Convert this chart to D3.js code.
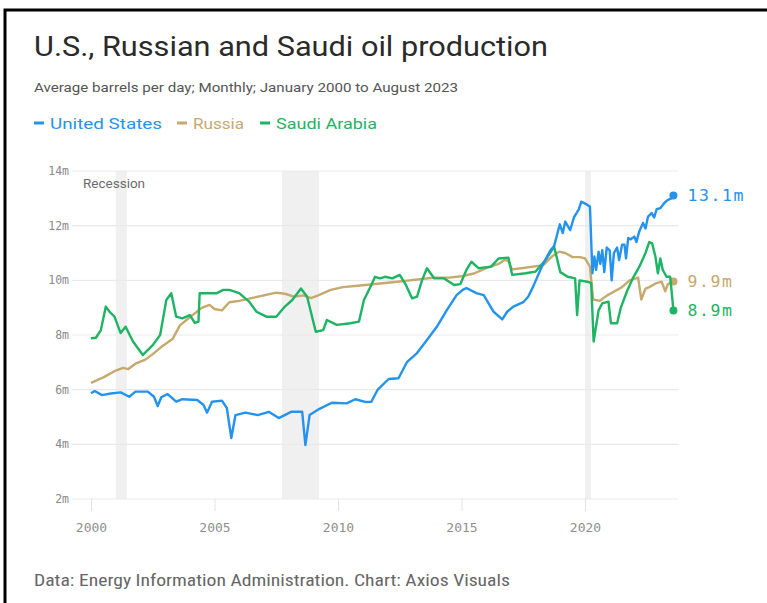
<!DOCTYPE html>
<html>
<head>
<meta charset="utf-8">
<script src="https://cdn.jsdelivr.net/npm/d3@7"></script>
<style>
  body { margin: 0; background: #fff; }
  svg { display: block; }
</style>
</head>
<body>
<div id="chart"></div>
<script>
// Monthly readings, [decimal year, million barrels per day]
const usSeries = [
  [2000.0, 5.87], [2000.15, 5.95], [2000.45, 5.8], [2000.8, 5.86], [2001.2, 5.9], [2001.55, 5.74],
  [2001.8, 5.93], [2002.3, 5.93], [2002.55, 5.74], [2002.7, 5.4], [2002.85, 5.73], [2003.1, 5.84],
  [2003.45, 5.56], [2003.7, 5.65], [2004.3, 5.62], [2004.55, 5.45], [2004.7, 5.16], [2004.9, 5.56],
  [2005.3, 5.6], [2005.5, 5.33], [2005.68, 4.23], [2005.85, 5.07], [2006.25, 5.16], [2006.75, 5.07],
  [2007.2, 5.19], [2007.6, 4.96], [2008.1, 5.19], [2008.55, 5.19], [2008.68, 3.97], [2008.85, 5.07],
  [2009.25, 5.3], [2009.75, 5.52], [2010.35, 5.5], [2010.7, 5.65], [2011.1, 5.55], [2011.35, 5.56],
  [2011.6, 5.99], [2012.05, 6.39], [2012.45, 6.42], [2012.8, 7.02], [2013.2, 7.34], [2013.6, 7.82],
  [2014.0, 8.3], [2014.4, 8.9], [2014.8, 9.46], [2015.05, 9.65], [2015.2, 9.72], [2015.6, 9.53],
  [2015.9, 9.46], [2016.3, 8.85], [2016.65, 8.57], [2016.85, 8.85], [2017.1, 9.04], [2017.5, 9.2],
  [2017.7, 9.4], [2017.9, 9.77], [2018.25, 10.5], [2018.6, 11.1], [2018.75, 11.25], [2018.98, 12.05],
  [2019.1, 11.73], [2019.2, 12.15], [2019.4, 11.84], [2019.55, 12.3], [2019.75, 12.6], [2019.85, 12.88],
  [2020.1, 12.76], [2020.2, 12.7], [2020.3, 10.26], [2020.38, 10.87], [2020.45, 10.38], [2020.55, 11.05],
  [2020.62, 10.6], [2020.7, 11.1], [2020.78, 10.3], [2020.88, 11.2], [2021.0, 11.1], [2021.08, 10.0],
  [2021.17, 11.0], [2021.3, 11.2], [2021.38, 10.74], [2021.5, 11.3], [2021.6, 11.3], [2021.66, 10.8],
  [2021.75, 11.55], [2021.85, 11.5], [2022.0, 11.6], [2022.08, 11.4], [2022.2, 11.8], [2022.35, 12.1],
  [2022.45, 11.9], [2022.55, 12.33], [2022.7, 12.46], [2022.8, 12.3], [2022.9, 12.6], [2023.05, 12.64],
  [2023.2, 12.82], [2023.35, 12.94], [2023.5, 13.0], [2023.58, 13.1]
];

const russiaSeries = [
  [2000.0, 6.25], [2000.5, 6.45], [2001.0, 6.7], [2001.3, 6.8], [2001.5, 6.75], [2001.8, 6.95],
  [2002.2, 7.1], [2002.5, 7.3], [2002.9, 7.6], [2003.3, 7.85], [2003.6, 8.35], [2004.0, 8.65],
  [2004.5, 9.0], [2004.8, 9.1], [2005.0, 8.95], [2005.3, 8.9], [2005.6, 9.2], [2006.0, 9.25],
  [2006.5, 9.35], [2007.0, 9.45], [2007.5, 9.55], [2007.9, 9.5], [2008.2, 9.4], [2008.6, 9.45],
  [2008.9, 9.35], [2009.2, 9.45], [2009.7, 9.65], [2010.2, 9.75], [2010.8, 9.8], [2011.3, 9.85],
  [2011.9, 9.9], [2012.4, 9.95], [2012.9, 10.0], [2013.4, 10.05], [2013.9, 10.1], [2014.5, 10.1],
  [2015.0, 10.15], [2015.5, 10.25], [2016.0, 10.45], [2016.5, 10.6], [2016.75, 10.75], [2016.9, 10.7],
  [2017.05, 10.4], [2017.5, 10.45], [2017.9, 10.5], [2018.3, 10.55], [2018.7, 10.9], [2018.95, 11.05],
  [2019.2, 11.0], [2019.5, 10.85], [2019.8, 10.85], [2020.0, 10.8], [2020.2, 10.5], [2020.33, 9.3],
  [2020.6, 9.25], [2020.9, 9.45], [2021.2, 9.6], [2021.5, 9.75], [2021.8, 10.0], [2022.0, 10.05],
  [2022.15, 10.1], [2022.28, 9.3], [2022.45, 9.7], [2022.6, 9.75], [2022.9, 9.9], [2023.1, 9.95],
  [2023.25, 9.6], [2023.35, 9.85], [2023.58, 9.96]
];

const saudiSeries = [
  [2000.0, 7.88], [2000.2, 7.9], [2000.4, 8.18], [2000.6, 9.04], [2000.75, 8.85], [2000.95, 8.67],
  [2001.2, 8.07], [2001.4, 8.3], [2001.7, 7.76], [2002.1, 7.27], [2002.5, 7.63], [2002.8, 8.0],
  [2003.05, 9.28], [2003.25, 9.53], [2003.45, 8.67], [2003.7, 8.61], [2004.0, 8.73], [2004.2, 8.44],
  [2004.35, 8.49], [2004.4, 9.53], [2005.1, 9.53], [2005.35, 9.65], [2005.6, 9.65], [2006.0, 9.53],
  [2006.4, 9.22], [2006.7, 8.85], [2007.1, 8.67], [2007.5, 8.67], [2007.85, 9.04], [2008.15, 9.28],
  [2008.5, 9.7], [2008.75, 9.4], [2009.1, 8.12], [2009.4, 8.18], [2009.55, 8.55], [2009.95, 8.37],
  [2010.5, 8.43], [2010.85, 8.49], [2011.05, 9.28], [2011.35, 9.83], [2011.5, 10.13], [2011.7, 10.07],
  [2011.9, 10.13], [2012.2, 10.07], [2012.5, 10.2], [2012.75, 9.83], [2013.0, 9.34], [2013.2, 9.4],
  [2013.4, 10.0], [2013.6, 10.44], [2013.9, 10.07], [2014.3, 10.07], [2014.7, 9.83], [2014.95, 9.86],
  [2015.2, 10.38], [2015.4, 10.68], [2015.7, 10.44], [2016.2, 10.5], [2016.5, 10.8], [2016.9, 10.83],
  [2017.05, 10.2], [2017.6, 10.26], [2018.0, 10.32], [2018.4, 10.74], [2018.75, 11.23], [2019.0, 10.3],
  [2019.3, 10.13], [2019.6, 10.07], [2019.68, 8.73], [2019.78, 10.0], [2020.1, 9.95], [2020.25, 9.9],
  [2020.35, 7.76], [2020.55, 8.9], [2020.7, 9.16], [2020.95, 9.22], [2021.05, 8.43], [2021.3, 8.43],
  [2021.45, 9.0], [2021.7, 9.6], [2021.95, 10.1], [2022.2, 10.5], [2022.45, 11.0], [2022.6, 11.4],
  [2022.72, 11.35], [2022.85, 10.87], [2022.95, 10.26], [2023.05, 10.8], [2023.15, 10.38],
  [2023.3, 10.13], [2023.45, 10.13], [2023.58, 8.9]
];

const endLabels = ['13.1m', '9.9m', '8.9m'];
const recessions = [[2001.0, 2001.45], [2007.73, 2009.23], [2020.0, 2020.24]];
const yTicks = [2, 4, 6, 8, 10, 12, 14];
const xTicks = [2000, 2005, 2010, 2015, 2020];

const width = 767, height = 603;
const colors = { us: '#2393ee', russia: '#c6a96c', saudi: '#1db463' };

const svg = d3.select('#chart').append('svg')
    .attr('width', width)
    .attr('height', height);

// Frame (top and left edges visible)
svg.append('path')
    .attr('d', `M5,${height + 5} V10 H${width + 5}`)
    .attr('fill', 'none')
    .attr('stroke', '#000')
    .attr('stroke-width', 3);

// Scales
const x = d3.scaleLinear().domain([2000, 2020]).range([91, 585]);
const y = d3.scaleLinear().domain([2, 14]).range([499, 171]);
const xEnd = x(2023.78);

// Titles
svg.append('text')
    .attr('x', 34).attr('y', 56)
    .attr('textLength', 514).attr('lengthAdjust', 'spacingAndGlyphs')
    .style('font-family', 'Roboto, sans-serif')
    .style('font-size', '27px')
    .style('fill', '#2a2a2a')
    .text('U.S., Russian and Saudi oil production');

svg.append('text')
    .attr('x', 34).attr('y', 92)
    .attr('textLength', 424).attr('lengthAdjust', 'spacingAndGlyphs')
    .style('font-family', 'Roboto, sans-serif')
    .style('font-size', '13px')
    .style('fill', '#555')
    .text('Average barrels per day; Monthly; January 2000 to August 2023');

// Legend
const legendItems = [
    { name: 'United States', color: colors.us, x: 34, w: 112 },
    { name: 'Russia', color: colors.russia, x: 177, w: 51 },
    { name: 'Saudi Arabia', color: colors.saudi, x: 260, w: 101 }
];
legendItems.forEach(d => {
    svg.append('line')
        .attr('x1', d.x).attr('x2', d.x + 10)
        .attr('y1', 123).attr('y2', 123)
        .attr('stroke', d.color).attr('stroke-width', 3);
    svg.append('text')
        .attr('x', d.x + 16).attr('y', 128.5)
        .attr('textLength', d.w).attr('lengthAdjust', 'spacingAndGlyphs')
        .style('font-family', 'Roboto, sans-serif')
        .style('font-size', '15px')
        .style('fill', d.color)
        .text(d.name);
});

// Recession bands
svg.append('g').selectAll('rect')
    .data(recessions)
    .enter()
    .append('rect')
    .attr('x', d => x(d[0]))
    .attr('width', d => x(d[1]) - x(d[0]))
    .attr('y', y(14))
    .attr('height', y(2) - y(14))
    .attr('fill', '#f0f0f0');

svg.append('text')
    .attr('x', 83).attr('y', 188)
    .style('font-family', 'Roboto, sans-serif')
    .style('font-size', '13.5px')
    .style('fill', '#6b6b6b')
    .text('Recession');

// Gridlines and y labels
const grid = svg.append('g');
grid.selectAll('line')
    .data(yTicks)
    .enter()
    .append('line')
    .attr('x1', 72).attr('x2', xEnd)
    .attr('y1', d => y(d)).attr('y2', d => y(d))
    .attr('stroke', '#e9e9e9')
    .attr('stroke-width', 1.2);

grid.selectAll('text')
    .data(yTicks)
    .enter()
    .append('text')
    .attr('x', 69)
    .attr('y', d => y(d))
    .attr('dy', '0.35em')
    .attr('text-anchor', 'end')
    .style('font-family', '"DejaVu Sans Mono", monospace')
    .style('font-size', '11.5px')
    .style('fill', '#8a8a8a')
    .text(d => d + 'm');

// X axis
const xAxis = svg.append('g')
    .attr('transform', `translate(0,${y(2)})`)
    .call(d3.axisBottom(x).tickValues(xTicks).tickFormat(d3.format('d')).tickSize(12).tickPadding(12));
xAxis.select('.domain').remove();
xAxis.selectAll('.tick line').attr('stroke', '#e2e2e2');
xAxis.selectAll('.tick text')
    .style('font-family', '"DejaVu Sans Mono", monospace')
    .style('font-size', '13px')
    .style('fill', '#8f8f8f');

// Lines
const line = d3.line()
    .x(d => x(d[0]))
    .y(d => y(d[1]));

const seriesList = [
    { data: russiaSeries, color: colors.russia, label: endLabels[1] },
    { data: saudiSeries, color: colors.saudi, label: endLabels[2] },
    { data: usSeries, color: colors.us, label: endLabels[0] }
];

seriesList.forEach(s => {
    svg.append('path')
        .datum(s.data)
        .attr('d', line)
        .attr('fill', 'none')
        .attr('stroke', s.color)
        .attr('stroke-width', 2.4)
        .attr('stroke-linejoin', 'round');

    const last = s.data[s.data.length - 1];
    svg.append('circle')
        .attr('cx', x(last[0]))
        .attr('cy', y(last[1]))
        .attr('r', 4)
        .attr('fill', s.color);

    svg.append('text')
        .attr('x', x(last[0]) + 14)
        .attr('y', y(last[1]))
        .attr('dy', '0.35em')
        .style('font-family', '"DejaVu Sans Mono", monospace')
        .style('font-size', '16.5px')
        .style('letter-spacing', '1.6px')
        .style('fill', s.color)
        .text(s.label);
});

// Footer
svg.append('text')
    .attr('x', 34).attr('y', 586)
    .attr('textLength', 476).attr('lengthAdjust', 'spacingAndGlyphs')
    .style('font-family', '"Liberation Sans Narrow", "Roboto Condensed", Roboto, sans-serif')
    .style('font-size', '17px')
    .style('fill', '#666')
    .text('Data: Energy Information Administration. Chart: Axios Visuals');
</script>
</body>
</html>
